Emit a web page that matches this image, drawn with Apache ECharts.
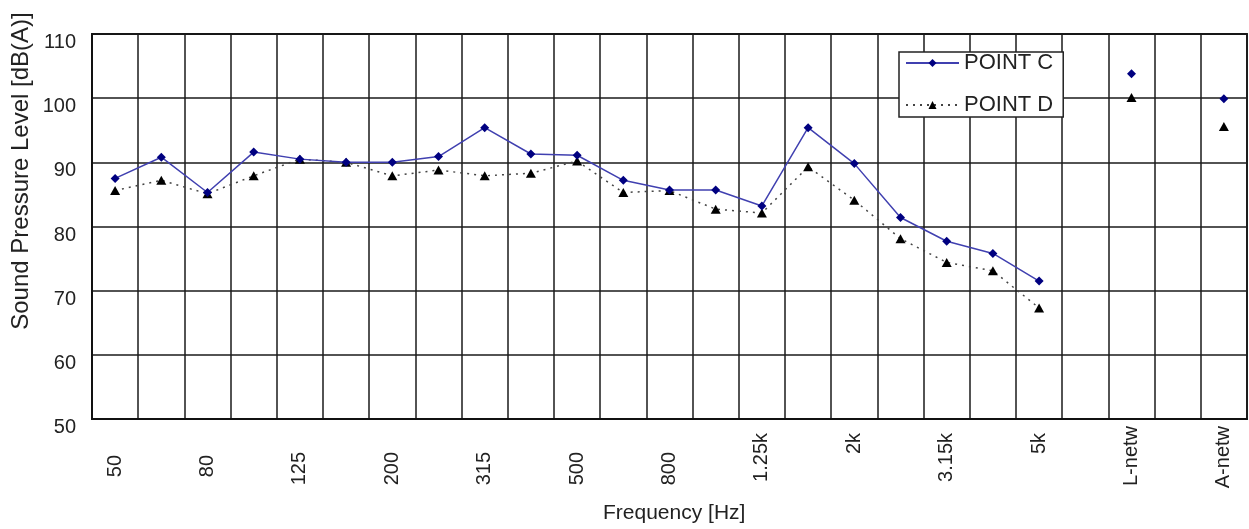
<!DOCTYPE html>
<html>
<head>
<meta charset="utf-8">
<script src="https://cdn.jsdelivr.net/npm/echarts@6/dist/echarts.min.js"></script>
<style>
html,body{margin:0;padding:0;background:#fff;}
#chart{width:1249px;height:529px;}
</style>
</head>
<body>
<div id="chart"></div>
<script>
var categories = ['50','63','80','100','125','160','200','250','315','400','500','630','800','1k','1.25k','1.6k','2k','2.5k','3.15k','4k','5k','','L-netw',' ','A-netw'];
var pointC = [87.5,90.8,85.3,91.6,90.5,90.0,90.0,90.9,95.4,91.3,91.1,87.2,85.7,85.7,83.2,95.4,89.8,81.4,77.7,75.8,71.5,null,103.8,null,99.9];
var pointD = [85.6,87.2,85.1,87.9,90.5,90.0,87.9,88.8,87.9,88.3,90.2,85.3,85.6,82.7,82.1,89.3,84.1,78.1,74.4,73.1,67.3,null,100.1,null,95.6];
var yTicks = {min:50, max:110, interval:10};
var seriesNames = ['POINT C','POINT D'];
var xTitle = 'Frequency [Hz]';
var yTitle = 'Sound Pressure Level [dB(A)]';

var FONT = '"Liberation Sans", Arial, sans-serif';

function labelPad(v){
  if (v.indexOf('netw') >= 0) return 0;
  if (v.indexOf('k') >= 0) return 7;
  if (v.length <= 2) return 29;
  return 26;
}

var chart = echarts.init(document.getElementById('chart'), null, {renderer:'canvas'});
var option = {
  animation:false,
  backgroundColor:'#ffffff',
  grid:{left:92,right:2,top:34,bottom:110,containLabel:false,show:true,borderColor:'#111',borderWidth:1.8,backgroundColor:'transparent'},
  legend:{
    show:true,
    orient:'vertical',
    left:899, top:52,
    padding:[0,10,1,6],
    itemGap:20,
    itemWidth:53,
    itemHeight:10,
    backgroundColor:'#fff',
    borderColor:'#222',
    borderWidth:1.5,
    borderRadius:0,
    textStyle:{fontFamily:FONT,fontSize:22,color:'#222',lineHeight:22},
    data:seriesNames
  },
  xAxis:{
    type:'category',
    data:categories,
    boundaryGap:true,
    axisLine:{show:true,lineStyle:{color:'#111',width:1.8}},
    axisTick:{show:false,interval:0},
    splitLine:{show:true,interval:0,lineStyle:{color:'#1a1a1a',width:1.5}},
    axisLabel:{
      interval:1,
      rotate:90,
      margin:7,
      fontFamily:FONT,fontSize:20,color:'#222',
      formatter:function(v){ return '{p' + labelPad(v) + '|' + v + '}'; },
      rich:{
        p0:{padding:[0,0,0,0],fontFamily:FONT,fontSize:20,color:'#222'},
        p7:{padding:[0,7,0,0],fontFamily:FONT,fontSize:20,color:'#222'},
        p26:{padding:[0,26,0,0],fontFamily:FONT,fontSize:20,color:'#222'},
        p29:{padding:[0,29,0,0],fontFamily:FONT,fontSize:20,color:'#222'}
      }
    }
  },
  yAxis:{
    type:'value',
    min:yTicks.min,max:yTicks.max,interval:yTicks.interval,
    axisLine:{show:true,lineStyle:{color:'#111',width:1.8}},
    axisTick:{show:false},
    splitLine:{show:true,lineStyle:{color:'#1a1a1a',width:1.5}},
    axisLabel:{
      margin:16,fontFamily:FONT,fontSize:20,color:'#222',
      formatter:function(v){ return '{a|' + v + '}'; },
      rich:{a:{padding:[17,0,0,0],fontFamily:FONT,fontSize:20,color:'#222'}}
    }
  },
  graphic:[
    {type:'text',left:603,top:503,style:{text:xTitle,font:'21px "Liberation Sans", Arial, sans-serif',fill:'#222'}},
    {type:'text',x:21,y:171,rotation:Math.PI/2,style:{text:yTitle,font:'24px "Liberation Sans", Arial, sans-serif',fill:'#222',align:'center',verticalAlign:'middle'}}
  ],
  series:[
    {
      name:seriesNames[0],type:'line',data:pointC,connectNulls:false,showAllSymbol:true,
      symbol:'diamond',symbolSize:[9,9],
      lineStyle:{color:'#4040b0',width:1.5,type:'solid'},
      itemStyle:{color:'#000080'},
      z:3
    },
    {
      name:seriesNames[1],type:'line',data:pointD,connectNulls:false,showAllSymbol:true,
      symbol:'triangle',symbolSize:[10,9],
      lineStyle:{color:'#444',width:1.5,type:[2,5]},
      itemStyle:{color:'#000'},
      z:2
    }
  ]
};
chart.setOption(option);
</script>
</body>
</html>
